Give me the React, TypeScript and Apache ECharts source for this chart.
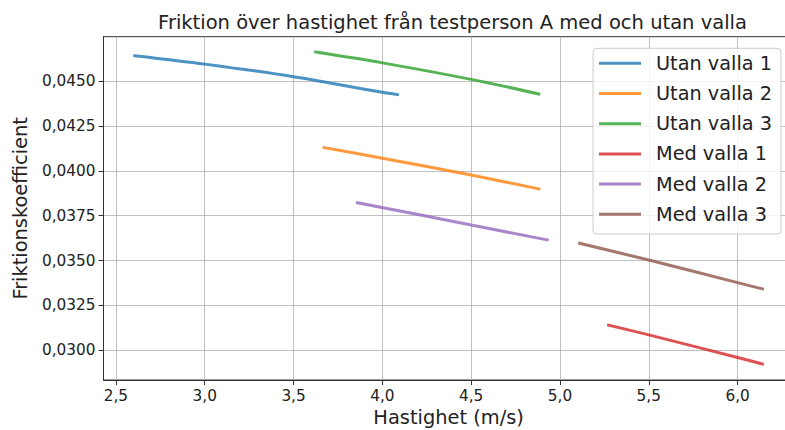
import React, { useEffect, useRef } from "react";
import * as echarts from "echarts";

const seriesNames = ["Utan valla 1", "Utan valla 2", "Utan valla 3", "Med valla 1", "Med valla 2", "Med valla 3"];
const seriesColors = [
  "rgba(31,119,180,0.8)",
  "rgba(255,127,14,0.8)",
  "rgba(44,160,44,0.8)",
  "rgba(214,39,40,0.8)",
  "rgba(148,103,189,0.8)",
  "rgba(140,86,75,0.8)",
];
const utan1: [number, number][] = [[2.606, 0.04641], [3.0, 0.04594], [3.5, 0.04524], [4.0, 0.04437], [4.085, 0.04424]];
const utan2: [number, number][] = [[3.672, 0.04129], [4.0, 0.0407], [4.5, 0.03976], [4.881, 0.03899]];
const utan3: [number, number][] = [[3.625, 0.04661], [4.0, 0.04601], [4.5, 0.04509], [4.881, 0.04428]];
const med1: [number, number][] = [[5.274, 0.0314], [5.5, 0.03086], [6.0, 0.0296], [6.14, 0.02924]];
const med2: [number, number][] = [[3.86, 0.03822], [4.5, 0.03698], [4.928, 0.03615]];
const med3: [number, number][] = [[5.111, 0.03596], [5.5, 0.03503], [6.0, 0.03377], [6.14, 0.03342]];
const seriesData = [utan1, utan2, utan3, med1, med2, med3];

const xTicks = [2.5, 3.0, 3.5, 4.0, 4.5, 5.0, 5.5, 6.0];
const yTicks = [0.03, 0.0325, 0.035, 0.0375, 0.04, 0.0425, 0.045];

const titleText = "Friktion över hastighet från testperson A med och utan valla";
const xName = "Hastighet (m/s)";
const yName = "Friktionskoefficient";

export default function App() {
  const ref = useRef<HTMLDivElement>(null);
  useEffect(() => {
    document.body.style.margin = "0";
    if (!ref.current) return;
    const chart = echarts.init(ref.current, undefined, { renderer: "svg" });
    const font = "DejaVu Sans";
    const textColor = "#222222";
    chart.setOption({
      animation: false,
      backgroundColor: "#ffffff",
      textStyle: { fontFamily: font },
      title: {
        text: titleText,
        left: 447.5,
        top: 7,
        textAlign: "center",
        textStyle: { fontFamily: font, fontSize: 19.5, fontWeight: "normal", color: textColor },
      },
      grid: {
        left: 103.5,
        top: 36.7,
        right: -8.7,
        bottom: 50,
        containLabel: false,
        outerBoundsMode: "none",
        show: true,
        borderColor: "#333333",
        borderWidth: 1,
        backgroundColor: "transparent",
      },
      xAxis: {
        type: "value",
        min: 2.43,
        max: 6.316,
        minInterval: 0.5,
        maxInterval: 0.5,
        splitNumber: 8,
        name: xName,
        nameLocation: "middle",
        nameGap: 26,
        nameTextStyle: { fontFamily: font, fontSize: 19.4, color: textColor },
        axisLine: { show: true, onZero: false, lineStyle: { color: "#333333", width: 1 } },
        axisTick: { show: true, inside: false, length: 5, customValues: xTicks, lineStyle: { color: "#333333", width: 1 } },
        axisLabel: {
          show: true,
          margin: 8,
          customValues: xTicks,
          fontFamily: font,
          fontSize: 15.3,
          color: textColor,
          formatter: (v: number) => v.toFixed(1).replace(".", ","),
        },
        splitLine: { show: true, lineStyle: { color: "#b0b0b0", width: 0.8 } },
      },
      yAxis: {
        type: "value",
        min: 0.028346,
        max: 0.047467,
        minInterval: 0.0025,
        maxInterval: 0.0025,
        splitNumber: 8,
        name: yName,
        nameLocation: "middle",
        nameGap: 74,
        nameTextStyle: { fontFamily: font, fontSize: 19.4, color: textColor },
        axisLine: { show: true, onZero: false, lineStyle: { color: "#333333", width: 1 } },
        axisTick: { show: true, inside: false, length: 5, customValues: yTicks, lineStyle: { color: "#333333", width: 1 } },
        axisLabel: {
          show: true,
          margin: 8,
          customValues: yTicks,
          fontFamily: font,
          fontSize: 15.3,
          color: textColor,
          formatter: (v: number) => v.toFixed(4).replace(".", ","),
        },
        splitLine: { show: true, lineStyle: { color: "#b0b0b0", width: 0.8 } },
      },
      legend: {
        show: true,
        orient: "vertical",
        left: 593,
        top: 48.3,
        icon: "rect",
        itemWidth: 42,
        itemHeight: 3,
        itemGap: 8.2,
        padding: [4, 9, 8.7, 6],
        backgroundColor: "rgba(255,255,255,0.8)",
        borderColor: "#cccccc",
        borderWidth: 1,
        borderRadius: 4,
        textStyle: {
          fontFamily: font,
          fontSize: 19.3,
          color: textColor,
          lineHeight: 22,
          padding: [0, 0, 0, 10],
        },
        data: seriesNames,
      },
      series: seriesNames.map((name, i) => ({
        name,
        type: "line",
        data: seriesData[i],
        showSymbol: false,
        symbol: "none",
        smooth: 0.3,
        color: seriesColors[i],
        lineStyle: { color: seriesColors[i], width: 3, cap: "square" },
        itemStyle: { color: seriesColors[i] },
      })),
    });
    return () => chart.dispose();
  }, []);
  return <div ref={ref} style={{ width: 785, height: 430 }} />;
}
